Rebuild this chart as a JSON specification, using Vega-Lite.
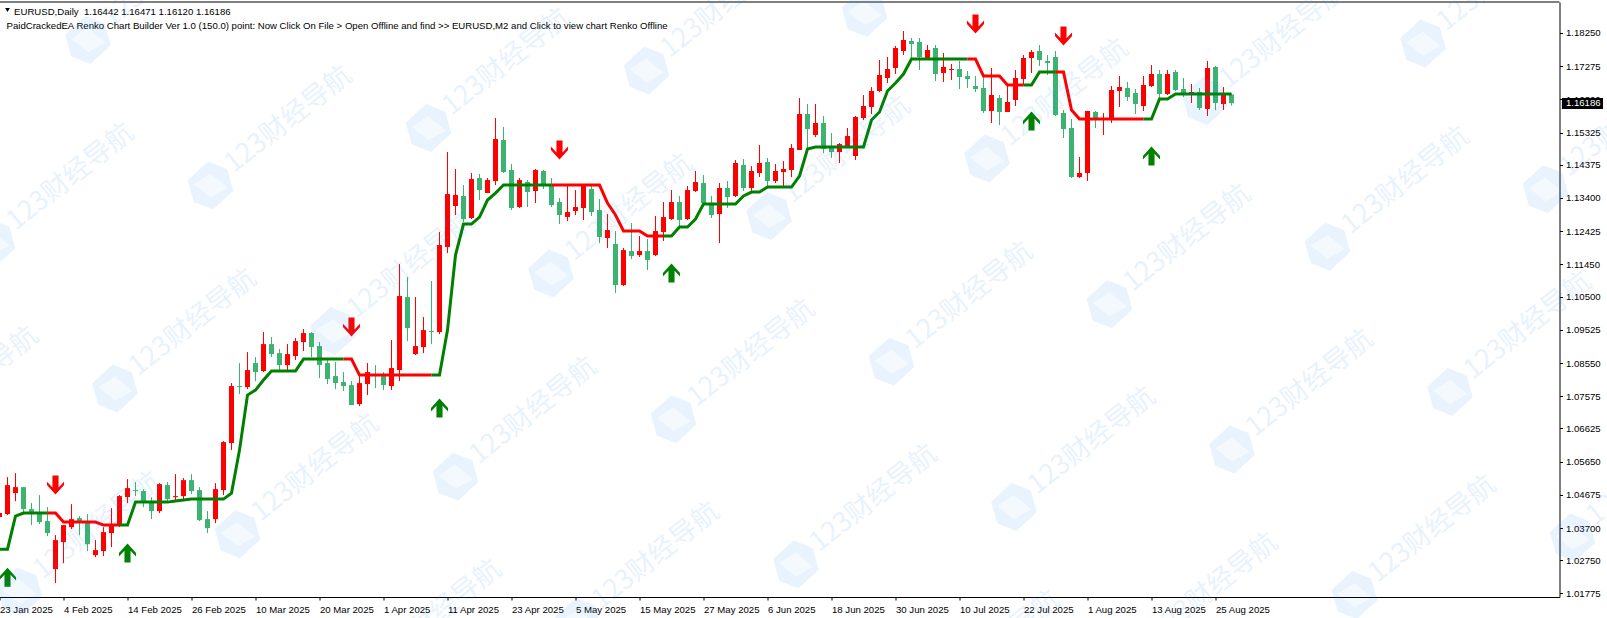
{"$schema":"https://vega.github.io/schema/vega-lite/v6.json","autosize":{"type":"none"},"width":1560,"height":595,"padding":{"left":-0.5,"top":2,"right":47.5,"bottom":21},"background":"white","config":{"view":{"stroke":null}},"resolve":{"scale":{"color":"independent"},"axis":{"y":"independent"}},
"datasets":{
"candles":[
{"b":0,"o":1.0402,"h":1.04138,"l":1.0402,"c":1.04138,"d":"up"},{"b":1,"o":1.04108,"h":1.05196,"l":1.04079,"c":1.04961,"d":"up"},{"b":2,"o":1.04726,"h":1.05314,"l":1.04491,"c":1.04902,"d":"up"},{"b":3,"o":1.04902,"h":1.04902,"l":1.04167,"c":1.04255,"d":"down"},{"b":4,"o":1.04255,"h":1.04432,"l":1.03785,"c":1.04108,"d":"down"},{"b":5,"o":1.04138,"h":1.04667,"l":1.03814,"c":1.03873,"d":"down"},{"b":6,"o":1.03903,"h":1.04314,"l":1.03462,"c":1.0355,"d":"down"},{"b":7,"o":1.02491,"h":1.03491,"l":1.0208,"c":1.03344,"d":"up"},{"b":8,"o":1.03285,"h":1.03785,"l":1.02668,"c":1.03785,"d":"up"},{"b":9,"o":1.03726,"h":1.04402,"l":1.03667,"c":1.03961,"d":"up"},
{"b":10,"o":1.03991,"h":1.0405,"l":1.03491,"c":1.03873,"d":"down"},{"b":11,"o":1.03844,"h":1.04108,"l":1.03021,"c":1.03226,"d":"down"},{"b":12,"o":1.02903,"h":1.03344,"l":1.02844,"c":1.0305,"d":"up"},{"b":13,"o":1.03021,"h":1.03726,"l":1.02874,"c":1.03579,"d":"up"},{"b":14,"o":1.0355,"h":1.04285,"l":1.03138,"c":1.03785,"d":"up"},{"b":15,"o":1.03785,"h":1.04667,"l":1.03726,"c":1.04638,"d":"up"},{"b":16,"o":1.04608,"h":1.05137,"l":1.04432,"c":1.04873,"d":"up"},{"b":17,"o":1.04814,"h":1.05049,"l":1.04638,"c":1.04785,"d":"down"},{"b":18,"o":1.04785,"h":1.04843,"l":1.04314,"c":1.04461,"d":"down"},{"b":19,"o":1.04461,"h":1.04608,"l":1.03961,"c":1.04197,"d":"down"},
{"b":20,"o":1.04197,"h":1.0502,"l":1.04138,"c":1.0499,"d":"up"},{"b":21,"o":1.04961,"h":1.05049,"l":1.04491,"c":1.04549,"d":"down"},{"b":22,"o":1.04608,"h":1.05284,"l":1.0452,"c":1.04638,"d":"up"},{"b":23,"o":1.04638,"h":1.05167,"l":1.04549,"c":1.05108,"d":"up"},{"b":24,"o":1.05108,"h":1.05284,"l":1.04696,"c":1.04785,"d":"down"},{"b":25,"o":1.04814,"h":1.04902,"l":1.03903,"c":1.03932,"d":"down"},{"b":26,"o":1.03961,"h":1.04197,"l":1.0355,"c":1.03697,"d":"down"},{"b":27,"o":1.03961,"h":1.0502,"l":1.03844,"c":1.04843,"d":"up"},{"b":28,"o":1.04814,"h":1.06255,"l":1.04667,"c":1.06225,"d":"up"},{"b":29,"o":1.06196,"h":1.0796,"l":1.0599,"c":1.07872,"d":"up"},
{"b":30,"o":1.07872,"h":1.08548,"l":1.07636,"c":1.07842,"d":"down"},{"b":31,"o":1.07842,"h":1.08871,"l":1.07783,"c":1.08342,"d":"up"},{"b":32,"o":1.08548,"h":1.08724,"l":1.08019,"c":1.08283,"d":"down"},{"b":33,"o":1.08313,"h":1.09459,"l":1.08283,"c":1.09106,"d":"up"},{"b":34,"o":1.09106,"h":1.09312,"l":1.08724,"c":1.08812,"d":"down"},{"b":35,"o":1.08842,"h":1.08959,"l":1.08342,"c":1.08489,"d":"down"},{"b":36,"o":1.08489,"h":1.09106,"l":1.08342,"c":1.08812,"d":"up"},{"b":37,"o":1.08754,"h":1.09283,"l":1.08636,"c":1.09195,"d":"up"},{"b":38,"o":1.09165,"h":1.09548,"l":1.08901,"c":1.0943,"d":"up"},{"b":39,"o":1.0943,"h":1.09459,"l":1.08724,"c":1.09018,"d":"down"},
{"b":40,"o":1.09047,"h":1.09165,"l":1.08107,"c":1.08489,"d":"down"},{"b":41,"o":1.08548,"h":1.08636,"l":1.07931,"c":1.08078,"d":"down"},{"b":42,"o":1.08166,"h":1.08577,"l":1.07783,"c":1.0796,"d":"down"},{"b":43,"o":1.0799,"h":1.08283,"l":1.07725,"c":1.07872,"d":"down"},{"b":44,"o":1.07901,"h":1.08019,"l":1.07313,"c":1.07313,"d":"down"},{"b":45,"o":1.07342,"h":1.08195,"l":1.07284,"c":1.0796,"d":"up"},{"b":46,"o":1.07931,"h":1.08548,"l":1.07607,"c":1.08283,"d":"up"},{"b":47,"o":1.08224,"h":1.08489,"l":1.07813,"c":1.08195,"d":"down"},{"b":48,"o":1.08166,"h":1.08283,"l":1.07754,"c":1.07901,"d":"down"},{"b":49,"o":1.07872,"h":1.09224,"l":1.07754,"c":1.08401,"d":"up"},
{"b":50,"o":1.08342,"h":1.11458,"l":1.08019,"c":1.10518,"d":"up"},{"b":51,"o":1.10488,"h":1.11076,"l":1.09195,"c":1.09577,"d":"down"},{"b":52,"o":1.08812,"h":1.10488,"l":1.08783,"c":1.09048,"d":"up"},{"b":53,"o":1.09018,"h":1.099,"l":1.08842,"c":1.09518,"d":"up"},{"b":54,"o":1.09489,"h":1.10959,"l":1.09106,"c":1.09459,"d":"down"},{"b":55,"o":1.09459,"h":1.12399,"l":1.094,"c":1.12017,"d":"up"},{"b":56,"o":1.11958,"h":1.14751,"l":1.11782,"c":1.13516,"d":"up"},{"b":57,"o":1.13164,"h":1.14252,"l":1.12899,"c":1.13487,"d":"up"},{"b":58,"o":1.13458,"h":1.13781,"l":1.12693,"c":1.12781,"d":"down"},{"b":59,"o":1.12811,"h":1.14134,"l":1.12781,"c":1.13957,"d":"up"},
{"b":60,"o":1.13987,"h":1.14104,"l":1.1334,"c":1.13634,"d":"down"},{"b":61,"o":1.13546,"h":1.13987,"l":1.13546,"c":1.13928,"d":"up"},{"b":62,"o":1.13899,"h":1.15751,"l":1.13781,"c":1.15133,"d":"up"},{"b":63,"o":1.15104,"h":1.15486,"l":1.14134,"c":1.14163,"d":"down"},{"b":64,"o":1.14222,"h":1.14398,"l":1.13046,"c":1.13105,"d":"down"},{"b":65,"o":1.13134,"h":1.13987,"l":1.13105,"c":1.13928,"d":"up"},{"b":66,"o":1.13869,"h":1.13928,"l":1.13134,"c":1.13575,"d":"down"},{"b":67,"o":1.13605,"h":1.14252,"l":1.13252,"c":1.14222,"d":"up"},{"b":68,"o":1.14193,"h":1.14222,"l":1.13663,"c":1.1381,"d":"down"},{"b":69,"o":1.13752,"h":1.13987,"l":1.13134,"c":1.13193,"d":"down"},
{"b":70,"o":1.13281,"h":1.13399,"l":1.12634,"c":1.12899,"d":"down"},{"b":71,"o":1.1284,"h":1.13752,"l":1.12722,"c":1.12987,"d":"up"},{"b":72,"o":1.13017,"h":1.13634,"l":1.12899,"c":1.13134,"d":"up"},{"b":73,"o":1.13105,"h":1.13752,"l":1.12752,"c":1.13752,"d":"up"},{"b":74,"o":1.13663,"h":1.13781,"l":1.1287,"c":1.12987,"d":"down"},{"b":75,"o":1.13046,"h":1.1337,"l":1.12076,"c":1.12252,"d":"down"},{"b":76,"o":1.12223,"h":1.12928,"l":1.11929,"c":1.12458,"d":"up"},{"b":77,"o":1.12047,"h":1.12429,"l":1.10606,"c":1.10841,"d":"down"},{"b":78,"o":1.10841,"h":1.11929,"l":1.10812,"c":1.1187,"d":"up"},{"b":79,"o":1.11841,"h":1.12664,"l":1.11605,"c":1.11694,"d":"down"},
{"b":80,"o":1.11723,"h":1.12282,"l":1.11664,"c":1.11841,"d":"up"},{"b":81,"o":1.11841,"h":1.12194,"l":1.11282,"c":1.11576,"d":"down"},{"b":82,"o":1.11723,"h":1.1287,"l":1.11694,"c":1.12429,"d":"up"},{"b":83,"o":1.12399,"h":1.13281,"l":1.12135,"c":1.1284,"d":"up"},{"b":84,"o":1.12781,"h":1.13634,"l":1.12752,"c":1.13281,"d":"up"},{"b":85,"o":1.13281,"h":1.13458,"l":1.12546,"c":1.12752,"d":"down"},{"b":86,"o":1.12781,"h":1.13752,"l":1.12752,"c":1.13634,"d":"up"},{"b":87,"o":1.13605,"h":1.14193,"l":1.13575,"c":1.13869,"d":"up"},{"b":88,"o":1.1384,"h":1.14075,"l":1.13222,"c":1.13252,"d":"down"},{"b":89,"o":1.13193,"h":1.13458,"l":1.12811,"c":1.12899,"d":"down"},
{"b":90,"o":1.12928,"h":1.1384,"l":1.12076,"c":1.13693,"d":"up"},{"b":91,"o":1.13693,"h":1.13899,"l":1.13105,"c":1.13428,"d":"down"},{"b":92,"o":1.13458,"h":1.14516,"l":1.13428,"c":1.14428,"d":"up"},{"b":93,"o":1.14369,"h":1.14545,"l":1.13605,"c":1.13693,"d":"down"},{"b":94,"o":1.13693,"h":1.1434,"l":1.13575,"c":1.14193,"d":"up"},{"b":95,"o":1.14134,"h":1.14957,"l":1.14016,"c":1.14428,"d":"up"},{"b":96,"o":1.14457,"h":1.14575,"l":1.13752,"c":1.13899,"d":"down"},{"b":97,"o":1.13899,"h":1.14398,"l":1.1384,"c":1.14193,"d":"up"},{"b":98,"o":1.14163,"h":1.14487,"l":1.13722,"c":1.14252,"d":"up"},{"b":99,"o":1.14222,"h":1.14986,"l":1.14016,"c":1.14869,"d":"up"},
{"b":100,"o":1.1481,"h":1.16339,"l":1.1481,"c":1.15868,"d":"up"},{"b":101,"o":1.15868,"h":1.16162,"l":1.1484,"c":1.15427,"d":"down"},{"b":102,"o":1.15251,"h":1.16162,"l":1.15192,"c":1.15604,"d":"up"},{"b":103,"o":1.15604,"h":1.1581,"l":1.14722,"c":1.1484,"d":"down"},{"b":104,"o":1.14869,"h":1.1531,"l":1.14575,"c":1.14751,"d":"down"},{"b":105,"o":1.14751,"h":1.15016,"l":1.14428,"c":1.14986,"d":"up"},{"b":106,"o":1.14898,"h":1.15457,"l":1.14869,"c":1.15222,"d":"up"},{"b":107,"o":1.14634,"h":1.1581,"l":1.14516,"c":1.1578,"d":"up"},{"b":108,"o":1.15751,"h":1.16427,"l":1.15692,"c":1.16104,"d":"up"},{"b":109,"o":1.16074,"h":1.16662,"l":1.15868,"c":1.16545,"d":"up"},
{"b":110,"o":1.16545,"h":1.17456,"l":1.16515,"c":1.17015,"d":"up"},{"b":111,"o":1.16927,"h":1.17544,"l":1.1678,"c":1.17191,"d":"up"},{"b":112,"o":1.1722,"h":1.17868,"l":1.17044,"c":1.17809,"d":"up"},{"b":113,"o":1.1772,"h":1.18309,"l":1.17603,"c":1.18044,"d":"up"},{"b":114,"o":1.18015,"h":1.18103,"l":1.17485,"c":1.17926,"d":"down"},{"b":115,"o":1.17985,"h":1.18103,"l":1.17162,"c":1.17544,"d":"down"},{"b":116,"o":1.17515,"h":1.17897,"l":1.17485,"c":1.1775,"d":"up"},{"b":117,"o":1.17809,"h":1.17897,"l":1.16839,"c":1.17044,"d":"down"},{"b":118,"o":1.17074,"h":1.17662,"l":1.16809,"c":1.1725,"d":"up"},{"b":119,"o":1.17162,"h":1.17338,"l":1.16868,"c":1.17191,"d":"up"},
{"b":120,"o":1.17191,"h":1.17426,"l":1.16603,"c":1.16956,"d":"down"},{"b":121,"o":1.16985,"h":1.17132,"l":1.16633,"c":1.16898,"d":"down"},{"b":122,"o":1.16692,"h":1.16985,"l":1.16515,"c":1.16603,"d":"down"},{"b":123,"o":1.16633,"h":1.16956,"l":1.15898,"c":1.15957,"d":"down"},{"b":124,"o":1.15957,"h":1.1722,"l":1.15604,"c":1.16427,"d":"up"},{"b":125,"o":1.16339,"h":1.16427,"l":1.15545,"c":1.15927,"d":"down"},{"b":126,"o":1.15927,"h":1.16751,"l":1.15927,"c":1.16221,"d":"up"},{"b":127,"o":1.1628,"h":1.17162,"l":1.16104,"c":1.16927,"d":"up"},{"b":128,"o":1.16898,"h":1.17603,"l":1.16721,"c":1.17515,"d":"up"},{"b":129,"o":1.17515,"h":1.1775,"l":1.17074,"c":1.17691,"d":"up"},
{"b":130,"o":1.1772,"h":1.17897,"l":1.17279,"c":1.17456,"d":"down"},{"b":131,"o":1.17426,"h":1.17603,"l":1.17015,"c":1.17368,"d":"down"},{"b":132,"o":1.17544,"h":1.1772,"l":1.1581,"c":1.15839,"d":"down"},{"b":133,"o":1.15898,"h":1.15986,"l":1.15163,"c":1.15427,"d":"down"},{"b":134,"o":1.15457,"h":1.15721,"l":1.13987,"c":1.14016,"d":"down"},{"b":135,"o":1.14016,"h":1.14604,"l":1.13987,"c":1.14134,"d":"up"},{"b":136,"o":1.14134,"h":1.15957,"l":1.13899,"c":1.15957,"d":"up"},{"b":137,"o":1.15927,"h":1.15957,"l":1.15457,"c":1.15751,"d":"down"},{"b":138,"o":1.15692,"h":1.15898,"l":1.15251,"c":1.15721,"d":"up"},{"b":139,"o":1.15721,"h":1.16692,"l":1.15604,"c":1.16574,"d":"up"},
{"b":140,"o":1.16545,"h":1.16985,"l":1.16074,"c":1.16662,"d":"up"},{"b":141,"o":1.16633,"h":1.16809,"l":1.16251,"c":1.16368,"d":"down"},{"b":142,"o":1.16486,"h":1.16603,"l":1.15868,"c":1.16162,"d":"down"},{"b":143,"o":1.16104,"h":1.16985,"l":1.15957,"c":1.16721,"d":"up"},{"b":144,"o":1.16692,"h":1.17309,"l":1.16662,"c":1.17044,"d":"up"},{"b":145,"o":1.17044,"h":1.17162,"l":1.16309,"c":1.16456,"d":"down"},{"b":146,"o":1.16456,"h":1.17162,"l":1.16427,"c":1.17044,"d":"up"},{"b":147,"o":1.17103,"h":1.17162,"l":1.16545,"c":1.16574,"d":"down"},{"b":148,"o":1.16603,"h":1.16927,"l":1.16368,"c":1.16427,"d":"down"},{"b":149,"o":1.16456,"h":1.16751,"l":1.16192,"c":1.16515,"d":"up"},
{"b":150,"o":1.16515,"h":1.16633,"l":1.15986,"c":1.16045,"d":"down"},{"b":151,"o":1.16015,"h":1.17426,"l":1.1581,"c":1.1722,"d":"up"},{"b":152,"o":1.1725,"h":1.17279,"l":1.15986,"c":1.16192,"d":"down"},{"b":153,"o":1.16162,"h":1.16662,"l":1.15986,"c":1.16427,"d":"up"},{"b":154,"o":1.16442,"h":1.16471,"l":1.1612,"c":1.16186,"d":"down"}
],
"trend":[
{"b":0,"p":1.03079,"s":1,"t":"up"},{"b":1,"p":1.03079,"s":1,"t":"up"},{"b":2,"p":1.0405,"s":1,"t":"up"},{"b":3,"p":1.04138,"s":1,"t":"up"},{"b":4,"p":1.04138,"s":1,"t":"up"},{"b":5,"p":1.04138,"s":1,"t":"up"},{"b":6,"p":1.04138,"s":1,"t":"up"},
{"b":6,"p":1.04138,"s":2,"t":"down"},{"b":7,"p":1.04138,"s":2,"t":"down"},{"b":8,"p":1.03873,"s":2,"t":"down"},{"b":9,"p":1.03873,"s":2,"t":"down"},{"b":10,"p":1.03873,"s":2,"t":"down"},{"b":11,"p":1.03873,"s":2,"t":"down"},{"b":12,"p":1.03873,"s":2,"t":"down"},{"b":13,"p":1.03785,"s":2,"t":"down"},{"b":14,"p":1.03785,"s":2,"t":"down"},{"b":15,"p":1.03785,"s":2,"t":"down"},
{"b":15,"p":1.03785,"s":3,"t":"up"},{"b":16,"p":1.03785,"s":3,"t":"up"},{"b":17,"p":1.04461,"s":3,"t":"up"},{"b":18,"p":1.04461,"s":3,"t":"up"},{"b":19,"p":1.04461,"s":3,"t":"up"},{"b":20,"p":1.04461,"s":3,"t":"up"},{"b":21,"p":1.04461,"s":3,"t":"up"},{"b":22,"p":1.04491,"s":3,"t":"up"},{"b":23,"p":1.0452,"s":3,"t":"up"},{"b":24,"p":1.04549,"s":3,"t":"up"},{"b":25,"p":1.04549,"s":3,"t":"up"},{"b":26,"p":1.04549,"s":3,"t":"up"},{"b":27,"p":1.04549,"s":3,"t":"up"},{"b":28,"p":1.04549,"s":3,"t":"up"},{"b":29,"p":1.04726,"s":3,"t":"up"},{"b":30,"p":1.0599,"s":3,"t":"up"},{"b":31,"p":1.07607,"s":3,"t":"up"},{"b":32,"p":1.07754,"s":3,"t":"up"},{"b":33,"p":1.08048,"s":3,"t":"up"},{"b":34,"p":1.08313,"s":3,"t":"up"},{"b":35,"p":1.08313,"s":3,"t":"up"},{"b":36,"p":1.08313,"s":3,"t":"up"},{"b":37,"p":1.08313,"s":3,"t":"up"},{"b":38,"p":1.08665,"s":3,"t":"up"},{"b":39,"p":1.08665,"s":3,"t":"up"},{"b":40,"p":1.08665,"s":3,"t":"up"},{"b":41,"p":1.08665,"s":3,"t":"up"},{"b":42,"p":1.08665,"s":3,"t":"up"},{"b":43,"p":1.08665,"s":3,"t":"up"},
{"b":43,"p":1.08665,"s":4,"t":"down"},{"b":44,"p":1.08665,"s":4,"t":"down"},{"b":45,"p":1.08195,"s":4,"t":"down"},{"b":46,"p":1.08195,"s":4,"t":"down"},{"b":47,"p":1.08195,"s":4,"t":"down"},{"b":48,"p":1.08195,"s":4,"t":"down"},{"b":49,"p":1.08195,"s":4,"t":"down"},{"b":50,"p":1.08195,"s":4,"t":"down"},{"b":51,"p":1.08195,"s":4,"t":"down"},{"b":52,"p":1.08195,"s":4,"t":"down"},{"b":53,"p":1.08195,"s":4,"t":"down"},{"b":54,"p":1.08195,"s":4,"t":"down"},
{"b":54,"p":1.08195,"s":5,"t":"up"},{"b":55,"p":1.08195,"s":5,"t":"up"},{"b":56,"p":1.09518,"s":5,"t":"up"},{"b":57,"p":1.11723,"s":5,"t":"up"},{"b":58,"p":1.12634,"s":5,"t":"up"},{"b":59,"p":1.12634,"s":5,"t":"up"},{"b":60,"p":1.1284,"s":5,"t":"up"},{"b":61,"p":1.1334,"s":5,"t":"up"},{"b":62,"p":1.13546,"s":5,"t":"up"},{"b":63,"p":1.13781,"s":5,"t":"up"},{"b":64,"p":1.13781,"s":5,"t":"up"},{"b":65,"p":1.13781,"s":5,"t":"up"},{"b":66,"p":1.13781,"s":5,"t":"up"},{"b":67,"p":1.13781,"s":5,"t":"up"},{"b":68,"p":1.13781,"s":5,"t":"up"},{"b":69,"p":1.13781,"s":5,"t":"up"},
{"b":69,"p":1.13781,"s":6,"t":"down"},{"b":70,"p":1.13781,"s":6,"t":"down"},{"b":71,"p":1.13781,"s":6,"t":"down"},{"b":72,"p":1.13781,"s":6,"t":"down"},{"b":73,"p":1.13781,"s":6,"t":"down"},{"b":74,"p":1.13781,"s":6,"t":"down"},{"b":75,"p":1.13781,"s":6,"t":"down"},{"b":76,"p":1.13252,"s":6,"t":"down"},{"b":77,"p":1.12899,"s":6,"t":"down"},{"b":78,"p":1.12429,"s":6,"t":"down"},{"b":79,"p":1.12429,"s":6,"t":"down"},{"b":80,"p":1.12429,"s":6,"t":"down"},{"b":81,"p":1.12282,"s":6,"t":"down"},{"b":82,"p":1.12282,"s":6,"t":"down"},{"b":83,"p":1.12282,"s":6,"t":"down"},
{"b":83,"p":1.12282,"s":7,"t":"up"},{"b":84,"p":1.12282,"s":7,"t":"up"},{"b":85,"p":1.12546,"s":7,"t":"up"},{"b":86,"p":1.12546,"s":7,"t":"up"},{"b":87,"p":1.12781,"s":7,"t":"up"},{"b":88,"p":1.13222,"s":7,"t":"up"},{"b":89,"p":1.13222,"s":7,"t":"up"},{"b":90,"p":1.13222,"s":7,"t":"up"},{"b":91,"p":1.13222,"s":7,"t":"up"},{"b":92,"p":1.13222,"s":7,"t":"up"},{"b":93,"p":1.13458,"s":7,"t":"up"},{"b":94,"p":1.13575,"s":7,"t":"up"},{"b":95,"p":1.13575,"s":7,"t":"up"},{"b":96,"p":1.13722,"s":7,"t":"up"},{"b":97,"p":1.13722,"s":7,"t":"up"},{"b":98,"p":1.13722,"s":7,"t":"up"},{"b":99,"p":1.13722,"s":7,"t":"up"},{"b":100,"p":1.14046,"s":7,"t":"up"},{"b":101,"p":1.1484,"s":7,"t":"up"},{"b":102,"p":1.14898,"s":7,"t":"up"},{"b":103,"p":1.14898,"s":7,"t":"up"},{"b":104,"p":1.14898,"s":7,"t":"up"},{"b":105,"p":1.14898,"s":7,"t":"up"},{"b":106,"p":1.14898,"s":7,"t":"up"},{"b":107,"p":1.14898,"s":7,"t":"up"},{"b":108,"p":1.14898,"s":7,"t":"up"},{"b":109,"p":1.15692,"s":7,"t":"up"},{"b":110,"p":1.15927,"s":7,"t":"up"},{"b":111,"p":1.16545,"s":7,"t":"up"},{"b":112,"p":1.1678,"s":7,"t":"up"},{"b":113,"p":1.17044,"s":7,"t":"up"},{"b":114,"p":1.17485,"s":7,"t":"up"},{"b":115,"p":1.17485,"s":7,"t":"up"},{"b":116,"p":1.17485,"s":7,"t":"up"},{"b":117,"p":1.17485,"s":7,"t":"up"},{"b":118,"p":1.17485,"s":7,"t":"up"},{"b":119,"p":1.17485,"s":7,"t":"up"},{"b":120,"p":1.17485,"s":7,"t":"up"},{"b":121,"p":1.17485,"s":7,"t":"up"},
{"b":121,"p":1.17485,"s":8,"t":"down"},{"b":122,"p":1.17485,"s":8,"t":"down"},{"b":123,"p":1.16985,"s":8,"t":"down"},{"b":124,"p":1.16985,"s":8,"t":"down"},{"b":125,"p":1.16985,"s":8,"t":"down"},{"b":126,"p":1.16721,"s":8,"t":"down"},{"b":127,"p":1.16721,"s":8,"t":"down"},{"b":128,"p":1.16721,"s":8,"t":"down"},
{"b":128,"p":1.16721,"s":9,"t":"up"},{"b":129,"p":1.16721,"s":9,"t":"up"},{"b":130,"p":1.17103,"s":9,"t":"up"},{"b":131,"p":1.17103,"s":9,"t":"up"},{"b":132,"p":1.17103,"s":9,"t":"up"},
{"b":132,"p":1.17103,"s":10,"t":"down"},{"b":133,"p":1.17103,"s":10,"t":"down"},{"b":134,"p":1.15986,"s":10,"t":"down"},{"b":135,"p":1.15721,"s":10,"t":"down"},{"b":136,"p":1.15721,"s":10,"t":"down"},{"b":137,"p":1.15721,"s":10,"t":"down"},{"b":138,"p":1.15721,"s":10,"t":"down"},{"b":139,"p":1.15721,"s":10,"t":"down"},{"b":140,"p":1.15721,"s":10,"t":"down"},{"b":141,"p":1.15721,"s":10,"t":"down"},{"b":142,"p":1.15721,"s":10,"t":"down"},{"b":143,"p":1.15721,"s":10,"t":"down"},
{"b":143,"p":1.15721,"s":11,"t":"up"},{"b":144,"p":1.15721,"s":11,"t":"up"},{"b":145,"p":1.16309,"s":11,"t":"up"},{"b":146,"p":1.16309,"s":11,"t":"up"},{"b":147,"p":1.16456,"s":11,"t":"up"},{"b":148,"p":1.16456,"s":11,"t":"up"},{"b":149,"p":1.16456,"s":11,"t":"up"},{"b":150,"p":1.16456,"s":11,"t":"up"},{"b":151,"p":1.16456,"s":11,"t":"up"},{"b":152,"p":1.16456,"s":11,"t":"up"},{"b":153,"p":1.16456,"s":11,"t":"up"},{"b":154,"p":1.16456,"s":11,"t":"up"}
],
"arrowsUp":[{"b":1,"p":1.02256},{"b":16,"p":1.02962},{"b":55,"p":1.07225},{"b":84,"p":1.11194},{"b":129,"p":1.15663},{"b":144,"p":1.14634}],
"arrowsDown":[{"b":7,"p":1.04961},{"b":44,"p":1.09606},{"b":70,"p":1.1481},{"b":122,"p":1.18514},{"b":133,"p":1.18162}],
"marks":[{"b":11.06,"p":1.18044},{"b":-0.875,"p":1.12077},{"b":26.38,"p":1.13767},{"b":53.63,"p":1.15457},{"b":80.88,"p":1.17148},{"b":108.13,"p":1.18838},{"b":-12.81,"p":1.0611},{"b":14.44,"p":1.078},{"b":41.69,"p":1.0949},{"b":68.94,"p":1.1118},{"b":96.19,"p":1.1287},{"b":123.44,"p":1.1456},{"b":150.69,"p":1.1625},{"b":177.94,"p":1.1794},{"b":2.5,"p":1.0183},{"b":29.75,"p":1.0352},{"b":57,"p":1.0521},{"b":84.25,"p":1.069},{"b":111.5,"p":1.0859},{"b":138.75,"p":1.1028},{"b":166,"p":1.1197},{"b":193.25,"p":1.1366},{"b":45.06,"p":0.9925},{"b":72.31,"p":1.0094},{"b":99.56,"p":1.0263},{"b":126.81,"p":1.0432},{"b":154.06,"p":1.0601},{"b":181.31,"p":1.077},{"b":114.88,"p":0.9835},{"b":142.13,"p":1.0004},{"b":169.38,"p":1.0173},{"b":196.63,"p":1.0342}],
"titles":[{"b":1.82,"p":1.18866,"label":"EURUSD,Daily\u00a0\u00a01.16442 1.16471 1.16120 1.16186"},{"b":0.88,"p":1.1847,"label":"PaidCrackedEA Renko Chart Builder Ver 1.0 (150.0) point: Now Click On File > Open Offline and find >> EURUSD,M2 and Click to view chart Renko Offline"}],
"frame":[{"b":0,"b2":195,"p":1.19161}],
"tri":[{"b":1,"p":1.18926}],
"last":[{"b":195.3,"b2":200.44,"top":1.16339,"bot":1.16016,"p":1.16186,"label":"1.16186"}]
},
"encoding":{"x":{"field":"b","type":"quantitative","title":null,"scale":{"domain":[0,195],"nice":false,"zero":false},"axis":{"values":[0,8,16,24,32,40,48,56,64,72,80,88,96,104,112,120,128,136,144,152],"labelExpr":"['23 Jan 2025','4 Feb 2025','14 Feb 2025','26 Feb 2025','10 Mar 2025','20 Mar 2025','1 Apr 2025','11 Apr 2025','23 Apr 2025','5 May 2025','15 May 2025','27 May 2025','6 Jun 2025','18 Jun 2025','30 Jun 2025','10 Jul 2025','22 Jul 2025','1 Aug 2025','13 Aug 2025','25 Aug 2025'][datum.value/8]","grid":false,"tickColor":"black","domainColor":"black","tickSize":3,"labelColor":"black","labelAlign":"left","labelBaseline":"top","labelPadding":4,"labelFont":"Liberation Sans","labelFontSize":9.6,"labelFlush":false,"labelBound":false,"labelOverlap":false}}},
"layer":[
{"data":{"name":"candles"},"mark":{"type":"rule","strokeWidth":1},"encoding":{"y":{"field":"l","type":"quantitative","title":null,"scale":{"domain":[1.01672,1.19161],"nice":false,"zero":false},"axis":{"orient":"right","values":[1.1825,1.17275,1.163,1.15325,1.14375,1.134,1.12425,1.1145,1.105,1.09525,1.0855,1.07575,1.06625,1.0565,1.04675,1.037,1.0275,1.01775],"format":".5f","grid":false,"tickColor":"black","domainColor":"black","tickSize":3,"labelColor":"black","labelPadding":3,"labelFont":"Liberation Sans","labelFontSize":9.6,"labelOverlap":false,"labelFlush":false,"labelBound":false}},"y2":{"field":"h"},"color":{"field":"d","type":"nominal","legend":null,"scale":{"domain":["up","down"],"range":["#ff0000","#3cb371"]}}}},
{"data":{"name":"candles"},"mark":{"type":"rule","strokeWidth":5},"encoding":{"y":{"field":"o","type":"quantitative","axis":null,"scale":{"domain":[1.01672,1.19161],"nice":false,"zero":false}},"y2":{"field":"c"},"color":{"field":"d","type":"nominal","legend":null,"scale":{"domain":["up","down"],"range":["#ff0000","#3cb371"]}}}},
{"data":{"name":"trend"},"mark":{"type":"line","strokeWidth":3,"interpolate":"linear"},"encoding":{"y":{"field":"p","type":"quantitative","axis":null,"scale":{"domain":[1.01672,1.19161],"nice":false,"zero":false}},"detail":{"field":"s"},"color":{"field":"t","type":"nominal","legend":null,"scale":{"domain":["up","down"],"range":["#008000","#ff0000"]}},"order":{"field":"b"}}},
{"data":{"name":"arrowsUp"},"mark":{"type":"point","filled":true,"opacity":1,"color":"#008000","size":361,"shape":"M0,-1L0.9,0L0.9,0.36L0.32,-0.25L0.32,1L-0.32,1L-0.32,-0.25L-0.9,0.36L-0.9,0Z"},"encoding":{"y":{"field":"p","type":"quantitative","axis":null,"scale":{"domain":[1.01672,1.19161],"nice":false,"zero":false}}}},
{"data":{"name":"arrowsDown"},"mark":{"type":"point","filled":true,"opacity":1,"color":"#ff0000","size":361,"shape":"M0,1L0.9,0L0.9,-0.36L0.32,0.25L0.32,-1L-0.32,-1L-0.32,0.25L-0.9,-0.36L-0.9,0Z"},"encoding":{"y":{"field":"p","type":"quantitative","axis":null,"scale":{"domain":[1.01672,1.19161],"nice":false,"zero":false}}}},
{"data":{"name":"frame"},"mark":{"type":"rule","color":"black","strokeWidth":1},"encoding":{"x2":{"field":"b2"},"y":{"field":"p","type":"quantitative","axis":null,"scale":{"domain":[1.01672,1.19161],"nice":false,"zero":false}}}},
{"data":{"name":"tri"},"mark":{"type":"point","shape":"triangle-down","filled":true,"opacity":1,"color":"black","size":22},"encoding":{"y":{"field":"p","type":"quantitative","axis":null,"scale":{"domain":[1.01672,1.19161],"nice":false,"zero":false}}}},
{"data":{"name":"titles"},"mark":{"type":"text","align":"left","baseline":"middle","font":"Liberation Sans","fontSize":9.6,"color":"black"},"encoding":{"y":{"field":"p","type":"quantitative","axis":null,"scale":{"domain":[1.01672,1.19161],"nice":false,"zero":false}},"text":{"field":"label"}}},
{"data":{"name":"last"},"mark":{"type":"rect","color":"black"},"encoding":{"x2":{"field":"b2"},"y":{"field":"top","type":"quantitative","axis":null,"scale":{"domain":[1.01672,1.19161],"nice":false,"zero":false}},"y2":{"field":"bot"}}},
{"data":{"name":"last"},"mark":{"type":"text","align":"left","baseline":"middle","font":"Liberation Sans","fontSize":9.6,"color":"white","dx":4},"encoding":{"y":{"field":"p","type":"quantitative","axis":null,"scale":{"domain":[1.01672,1.19161],"nice":false,"zero":false}},"text":{"field":"label"}}},
{"data":{"name":"marks"},"mark":{"type":"point","filled":true,"opacity":0.1,"color":"#1e88f0","size":2304,"shape":"M-0.1,-1L0.7,-0.68L0.95,0.22L0.1,1L-0.7,0.68L-0.95,-0.22ZM-0.7,-0.05L0,0.5L0.72,0.1L0,-0.5Z"},"encoding":{"y":{"field":"p","type":"quantitative","axis":null,"scale":{"domain":[1.01672,1.19161],"nice":false,"zero":false}}}},
{"data":{"name":"marks"},"mark":{"type":"point","filled":true,"opacity":0.05,"color":"#1e88f0","size":2304,"shape":"M-0.7,-0.05L0,-0.5L0.72,0.1L0,0.5Z"},"encoding":{"y":{"field":"p","type":"quantitative","axis":null,"scale":{"domain":[1.01672,1.19161],"nice":false,"zero":false}}}},
{"data":{"name":"marks"},"mark":{"type":"text","font":"Noto Sans CJK SC","fontSize":27,"align":"center","baseline":"middle","angle":321.5,"dx":102,"dy":-3,"color":"#1e88f0","opacity":0.1,"text":"123财经导航"},"encoding":{"y":{"field":"p","type":"quantitative","axis":null,"scale":{"domain":[1.01672,1.19161],"nice":false,"zero":false}}}}
]}
